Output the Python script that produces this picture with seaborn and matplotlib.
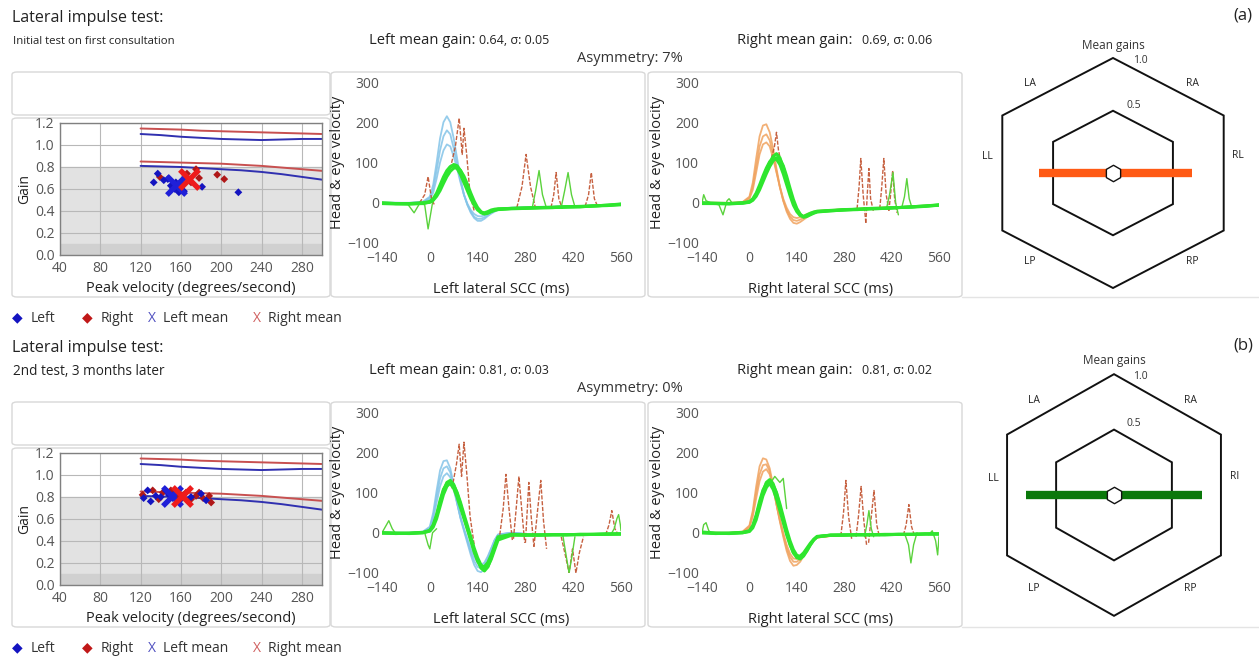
import numpy as np
import pandas as pd
import seaborn as sns
import matplotlib.pyplot as plt
from matplotlib.patches import FancyBboxPatch, Polygon

W, H = 1259, 668

# ---------------- DATA ----------------
# sample times (ms) shared by the head / eye traces
T = [-140, -100, -60, -20, 0, 10, 20, 30, 40, 50, 60, 70, 80, 90, 100, 110, 120,
     130, 140, 150, 160, 170, 180, 190, 200, 240, 280, 320, 360, 400, 440, 480, 520, 560]

# (a) left lateral SCC
A_L_HEAD = [
    [0, 0, 0, 3, 15, 45, 100, 160, 200, 215, 200, 160, 110, 60, 20, -5, -25, -38, -45, -45, -40, -33, -27, -22, -18, -13, -12, -11, -10, -9, -8, -7, -6, -5],
    [0, 0, -1, 2, 12, 35, 80, 130, 165, 180, 170, 135, 95, 55, 20, -5, -22, -35, -40, -40, -36, -30, -25, -20, -17, -13, -12, -11, -10, -9, -8, -7, -6, -5],
    [0, -1, -1, 1, 8, 25, 60, 100, 130, 145, 140, 115, 85, 50, 20, -2, -18, -28, -33, -34, -31, -27, -22, -18, -15, -12, -11, -10, -10, -9, -8, -7, -6, -4],
]
A_L_EYE = [
    [-2, -3, -3, -2, 2, 8, 20, 38, 58, 76, 88, 95, 92, 80, 62, 40, 18, 0, -15, -25, -28, -26, -22, -19, -17, -15, -14, -13, -12, -11, -10, -8, -7, -5],
    [0, -2, -2, 0, 3, 10, 24, 44, 64, 80, 90, 92, 85, 70, 50, 30, 10, -6, -18, -24, -25, -22, -18, -16, -15, -14, -13, -12, -11, -10, -9, -8, -6, -4],
    [-1, -2, -3, -1, 1, 6, 16, 30, 48, 65, 78, 86, 87, 80, 66, 46, 24, 4, -12, -22, -27, -25, -21, -18, -16, -14, -13, -12, -12, -10, -10, -8, -6, -3],
]
A_L_RED = [
    ([-30, -15, -5, 5, 15], [0, 20, 65, 10, -8]),
    ([60, 75, 86, 95, 100, 108, 118, 130], [85, 140, 210, 120, 185, 120, 20, -20]),
    ([255, 270, 282, 295, 310], [-12, 40, 120, 40, -15]),
    ([355, 363, 370, 378, 388], [-12, 20, 75, 10, -15]),
    ([455, 465, 473, 482, 492], [-9, 20, 75, 10, -10]),
]
A_L_GREEN = [
    ([-65, -46, -30, -15, -5, 8, 20], [-3, -25, -2, -5, -65, 0, 20]),
    ([300, 310, 320, 330, 342], [-13, 30, 80, 20, -14]),
    ([385, 395, 405, 415, 425], [-11, 30, 75, 20, -10]),
]

# (a) right lateral SCC
A_R_HEAD = [
    [0, 0, 0, 2, 15, 50, 110, 165, 192, 195, 175, 135, 85, 40, 5, -22, -40, -50, -52, -48, -42, -36, -30, -26, -23, -20, -18, -16, -14, -13, -12, -10, -8, -6],
    [0, 0, -1, 1, 12, 40, 90, 140, 165, 170, 155, 120, 78, 38, 5, -18, -34, -43, -45, -42, -37, -32, -28, -24, -21, -19, -17, -15, -14, -12, -11, -10, -8, -6],
    [0, -1, -1, 0, 10, 32, 75, 120, 145, 150, 140, 110, 75, 40, 10, -12, -28, -36, -38, -36, -32, -28, -25, -22, -20, -18, -16, -15, -13, -12, -11, -9, -7, -5],
]
A_R_EYE = [
    [-2, -2, -2, -1, 2, 8, 20, 38, 60, 82, 100, 115, 122, 112, 88, 58, 28, 2, -18, -30, -35, -32, -28, -25, -22, -20, -18, -16, -15, -14, -12, -10, -8, -6],
    [0, -1, -2, 0, 3, 10, 24, 44, 66, 86, 102, 110, 108, 95, 72, 45, 18, -6, -22, -32, -34, -30, -26, -23, -21, -19, -17, -16, -14, -13, -12, -10, -8, -5],
    [-1, -2, -3, -1, 1, 6, 16, 32, 52, 72, 90, 104, 112, 108, 92, 66, 36, 8, -14, -28, -36, -34, -30, -26, -23, -20, -18, -17, -15, -14, -12, -11, -9, -6],
]
A_R_RED = [
    ([65, 74, 80, 86, 95], [110, 140, 175, 130, 95]),
    ([318, 324, 329, 336, 344], [-15, 40, 110, 20, -50]),
    ([344, 348, 353, 358, 366], [-50, 20, 85, 10, -20]),
    ([385, 391, 397, 404, 412], [-15, 40, 110, 20, -20]),
    ([412, 417, 423, 429, 436], [-20, 20, 80, 10, -25]),
]
A_R_GREEN = [
    ([-140, -135, -128, -110, -90, -78, -66, -60, -50], [0, 20, 5, -2, -5, -30, 5, 10, -2]),
    ([405, 414, 424, 432, 440], [-14, 20, 75, 0, -30]),
    ([450, 458, 465, 472, 480], [-12, 15, 60, 10, -12]),
]

# (b) left lateral SCC
B_L_HEAD = [
    [0, 0, 0, 3, 15, 50, 105, 155, 178, 180, 160, 120, 75, 35, 5, -25, -55, -80, -95, -98, -90, -70, -45, -20, -5, 0, -3, -5, -5, -4, -4, -3, -3, -2],
    [0, 0, -1, 2, 12, 42, 90, 135, 160, 165, 150, 115, 75, 38, 8, -20, -48, -70, -85, -88, -80, -62, -40, -18, -4, 0, -3, -5, -5, -4, -4, -3, -3, -2],
    [0, -1, -1, 1, 10, 35, 75, 115, 140, 148, 138, 108, 72, 38, 10, -15, -40, -60, -75, -80, -74, -58, -38, -18, -5, 0, -3, -4, -5, -4, -3, -3, -2, -2],
]
B_L_EYE = [
    [0, -1, -1, 0, 5, 18, 42, 75, 105, 125, 130, 120, 98, 70, 40, 12, -15, -45, -70, -88, -95, -85, -62, -35, -12, -5, -6, -6, -5, -5, -5, -4, -4, -3],
    [0, -2, -1, 1, 6, 20, 46, 80, 108, 122, 122, 110, 88, 62, 35, 8, -20, -48, -70, -82, -84, -74, -55, -32, -10, -4, -5, -6, -5, -5, -4, -4, -3, -3],
    [-1, -1, -2, 0, 4, 14, 35, 65, 95, 115, 124, 118, 100, 75, 46, 18, -10, -38, -62, -80, -90, -84, -66, -42, -18, -6, -6, -5, -5, -5, -4, -4, -3, -3],
]
B_L_RED = [
    ([65, 78, 86, 93, 100, 108, 118, 130], [110, 170, 220, 140, 225, 150, 40, -30]),
    ([205, 215, 223, 232, 242], [-5, 60, 145, 60, -20]),
    ([245, 253, 261, 270, 278], [-15, 60, 140, 50, -25]),
    ([280, 285, 290, 297, 305], [-25, 50, 125, 40, -35]),
    ([305, 315, 325, 333, 342], [-35, 50, 130, 30, -40]),
    ([385, 398, 408, 418, 428, 438, 450], [-10, -60, -100, -40, -100, -50, -10]),
    ([515, 525, 533, 542, 552], [-5, 20, 55, 10, -5]),
]
B_L_GREEN = [
    ([-140, -130, -120, -110, -100], [0, 15, 30, 10, -2]),
    ([-15, -5, 0, 8, 20], [0, -30, -40, 0, 10]),
    ([390, 400, 408, 416, 425], [-8, -60, -100, -60, -10]),
    ([530, 540, 548, 553, 558, 560], [-5, 10, 35, 45, 20, 5]),
]

# (b) right lateral SCC
B_R_HEAD = [
    [0, 0, 0, 3, 18, 55, 115, 165, 185, 182, 160, 118, 70, 28, -10, -45, -70, -82, -80, -72, -58, -42, -28, -18, -12, -8, -6, -5, -5, -4, -4, -3, -3, -2],
    [0, 0, -1, 2, 15, 48, 100, 145, 168, 170, 152, 115, 70, 30, -5, -38, -60, -72, -72, -66, -54, -40, -28, -18, -12, -8, -6, -5, -5, -4, -4, -3, -3, -2],
    [0, -1, -1, 1, 12, 40, 85, 128, 152, 158, 145, 112, 72, 34, 0, -30, -52, -64, -65, -60, -50, -38, -27, -18, -12, -8, -6, -5, -5, -4, -4, -3, -3, -2],
]
B_R_EYE = [
    [2, -1, -1, 0, 4, 16, 40, 72, 102, 125, 132, 122, 98, 66, 32, 0, -28, -50, -62, -65, -58, -45, -30, -18, -10, -6, -6, -5, -5, -5, -4, -4, -3, -3],
    [0, -2, -1, 1, 5, 18, 44, 78, 106, 122, 122, 108, 84, 55, 25, -5, -30, -50, -58, -58, -50, -38, -26, -16, -9, -6, -5, -5, -5, -4, -4, -4, -3, -3],
    [0, -1, -2, 0, 3, 12, 32, 62, 92, 112, 124, 118, 100, 72, 40, 8, -20, -42, -56, -60, -55, -44, -30, -18, -10, -6, -6, -5, -5, -5, -4, -4, -3, -3],
]
B_R_RED = [
    ([270, 278, 285, 293, 302], [-8, 50, 130, 40, -15]),
    ([315, 322, 330, 338, 346], [-10, 40, 115, 30, -30]),
    ([352, 360, 368, 376, 384], [-25, 40, 105, 20, -10]),
    ([455, 463, 471, 479, 487], [-6, 20, 70, 15, -6]),
]
B_R_GREEN = [
    ([-140, -135, -128, -120, -110], [0, 20, 25, 5, -2]),
    ([60, 75, 90, 100, 110], [120, 140, 125, 135, 60]),
    ([340, 347, 353, 360, 367], [-10, 20, 55, 10, -10]),
    ([460, 470, 477, 485, 495], [-6, -30, -75, -30, 0]),
    ([530, 540, 550, 556, 560], [-5, 5, -20, -55, -10]),
]

# gain vs peak head velocity
A_LEFT_VEL = [133, 137, 143, 147, 150, 152, 154, 156, 158, 160, 163, 181, 217, 155]
A_LEFT_GAIN = [0.66, 0.74, 0.68, 0.69, 0.63, 0.61, 0.60, 0.62, 0.57, 0.65, 0.58, 0.62, 0.57, 0.66]
A_RIGHT_VEL = [139, 166, 170, 175, 178, 196, 203]
A_RIGHT_GAIN = [0.71, 0.74, 0.66, 0.78, 0.70, 0.73, 0.69]
A_MEAN = {"left": (155, 0.64), "right": (168, 0.69)}

B_LEFT_VEL = [123, 127, 130, 135, 140, 145, 148, 152, 155, 160, 170, 180, 185]
B_LEFT_GAIN = [0.79, 0.86, 0.76, 0.81, 0.80, 0.86, 0.82, 0.79, 0.84, 0.78, 0.80, 0.83, 0.77]
B_RIGHT_VEL = [122, 132, 138, 142, 150, 158, 165, 170, 175, 178, 182, 188, 190]
B_RIGHT_GAIN = [0.82, 0.86, 0.78, 0.84, 0.86, 0.80, 0.84, 0.78, 0.81, 0.84, 0.79, 0.81, 0.75]
B_MEAN = {"left": (151, 0.81), "right": (161, 0.81)}

# normative limits
NORM_VEL = [120, 140, 160, 180, 200, 220, 240, 260, 280, 300]
NORM_RED_UP = [1.15, 1.145, 1.14, 1.13, 1.125, 1.12, 1.115, 1.11, 1.105, 1.10]
NORM_BLUE_UP = [1.10, 1.09, 1.075, 1.065, 1.055, 1.05, 1.045, 1.05, 1.055, 1.055]
NORM_RED_LO = [0.85, 0.845, 0.84, 0.835, 0.83, 0.82, 0.81, 0.795, 0.78, 0.765]
NORM_BLUE_LO = [0.81, 0.805, 0.80, 0.79, 0.78, 0.77, 0.755, 0.735, 0.71, 0.685]

# mean gains (hexagon)
RINGS = [0.5, 1.0]
A_GAINS = {"left": 0.64, "right": 0.69}
B_GAINS = {"left": 0.81, "right": 0.81}
R_OFFSET = 0.09   # radial offset of the hexagon scale (the centre is not gain 0)

# ---------------- STYLE ----------------
sns.set_theme(style="white")
plt.rcParams['font.family'] = ['Open Sans', 'DejaVu Sans']

fig = plt.figure(figsize=(W / 100, H / 100), dpi=100)


def px_axes(x0, y0, x1, y1):
    return fig.add_axes([x0 / W, 1 - y1 / H, (x1 - x0) / W, (y1 - y0) / H])


def box(x0, y0, x1, y1):
    p = FancyBboxPatch((x0 / W, 1 - y1 / H), (x1 - x0) / W, (y1 - y0) / H,
                       boxstyle="round,pad=0,rounding_size=0.004",
                       transform=fig.transFigure, fc='none', ec='#d8d8d8', lw=1, zorder=-5)
    fig.patches.append(p)


def tx(x, y, s, **kw):
    kw.setdefault('va', 'center')
    fig.text(x / W, 1 - y / H, s, **kw)


def gain_panel(ax, lv, lg, rv, rg, means):
    ax.axhspan(0, 0.8, color='#e2e2e2', zorder=0)
    ax.axhspan(0, 0.1, color='#d0d0d0', zorder=0)
    ax.set_xlim(40, 300)
    ax.set_ylim(0, 1.2)
    ax.set_xticks([40, 80, 120, 160, 200, 240, 280])
    ax.set_yticks([0.0, 0.2, 0.4, 0.6, 0.8, 1.0, 1.2])
    ax.set_yticklabels(['0.0', '0.2', '0.4', '0.6', '0.8', '1.0', '1.2'])
    ax.grid(True, color='#b8b8b8', lw=0.8)
    ax.set_axisbelow(True)
    for yv, c in [(NORM_RED_UP, '#c85050'), (NORM_BLUE_UP, '#3030b0'),
                  (NORM_RED_LO, '#c85050'), (NORM_BLUE_LO, '#3030b0')]:
        sns.lineplot(x=NORM_VEL, y=yv, color=c, lw=1.4, ax=ax)
    sns.scatterplot(x=rv, y=rg, marker='D', s=16, color='#b01818', edgecolor='none', ax=ax, zorder=3)
    sns.scatterplot(x=lv, y=lg, marker='D', s=16, color='#1414c0', edgecolor='none', ax=ax, zorder=3)
    sns.scatterplot(x=[means['left'][0]], y=[means['left'][1]], marker='x', s=190,
                    linewidth=3.8, color='#2020d8', ax=ax, zorder=4)
    sns.scatterplot(x=[means['right'][0]], y=[means['right'][1]], marker='x', s=190,
                    linewidth=3.8, color='#ee1c1c', ax=ax, zorder=4)
    for s in ax.spines.values():
        s.set_color('#808080')
        s.set_linewidth(1)
    ax.tick_params(length=0, labelsize=10, labelcolor='#555555', pad=4)
    ax.set_xlabel('Peak velocity (degrees/second)', fontsize=10.5, color='#222222', labelpad=4)
    ax.set_ylabel('Gain', fontsize=10, color='#222222', labelpad=2)


def wave_panel(ax, heads, eyes, reds, greens, head_color, xlabel):
    rows = []
    for i, tr in enumerate(heads):
        rows += [dict(kind='head', trace=i, t=t, v=v) for t, v in zip(T, tr)]
    for i, tr in enumerate(eyes):
        rows += [dict(kind='eye', trace=i, t=t, v=v) for t, v in zip(T, tr)]
    for i, (ts, vs) in enumerate(reds):
        rows += [dict(kind='red', trace=i, t=t, v=v) for t, v in zip(ts, vs)]
    for i, (ts, vs) in enumerate(greens):
        rows += [dict(kind='green', trace=i, t=t, v=v) for t, v in zip(ts, vs)]
    df = pd.DataFrame(rows)
    common = dict(x='t', y='v', units='trace', estimator=None, sort=False, ax=ax, legend=False)
    sns.lineplot(data=df[df.kind == 'head'], color=head_color, lw=1.3, alpha=0.85, **common)
    sns.lineplot(data=df[df.kind == 'red'], color='#c0502c', lw=1.0, alpha=0.9,
                 dashes=False, linestyle=(0, (3, 1.2)), **common)
    sns.lineplot(data=df[df.kind == 'green'], color='#5ad23c', lw=1.0, **common)
    sns.lineplot(data=df[df.kind == 'eye'], color='#2ee62e', lw=2.2, **common)
    ax.set_xlim(-140, 560)
    ax.set_ylim(-100, 300)
    ax.set_xticks([-140, 0, 140, 280, 420, 560])
    ax.set_yticks([-100, 0, 100, 200, 300])
    for s in ax.spines.values():
        s.set_visible(False)
    ax.set_facecolor('none')
    ax.tick_params(axis='y', length=0, labelsize=10, labelcolor='#555555', pad=2)
    ax.tick_params(axis='x', length=0, labelsize=10, labelcolor='#555555', pad=6)
    ax.set_xlabel(xlabel, fontsize=10.5, color='#222222', labelpad=11)
    ax.set_ylabel('Head & eye velocity', fontsize=10.5, color='#222222', labelpad=2)


def radial(g):
    return (g + R_OFFSET) / (1 + R_OFFSET)


def hex_panel(ax, gains, color, labels):
    ang = np.deg2rad([90, 30, -30, -90, -150, 150])
    for r in RINGS:
        rr = radial(r)
        ax.add_patch(Polygon(np.c_[rr * np.cos(ang), rr * np.sin(ang)], closed=True,
                             fill=False, ec='#111111', lw=1.4))
    c30 = np.cos(np.deg2rad(30))
    ax.plot([-radial(gains['left']) * c30, 0], [0, 0], color=color, lw=6, solid_capstyle='butt')
    ax.plot([0, radial(gains['right']) * c30], [0, 0], color=color, lw=6, solid_capstyle='butt')
    ax.scatter([0], [0], s=140, marker='h', facecolor='white', edgecolor='#111111', lw=1, zorder=5)
    ax.set_xlim(-1.15, 1.15)
    ax.set_ylim(-1.2, 1.2)
    ax.axis('off')
    ax.text(0, 1.11, 'Mean gains', ha='center', va='center', fontsize=8.5, color='#333333')
    ax.text(0.21, 0.98, '1.0', ha='center', va='center', fontsize=7.5, color='#333333')
    ax.text(0.16, radial(0.5) + 0.05, '0.5', ha='center', va='center', fontsize=7.5, color='#333333')
    pos = [(-0.65, 0.78), (0.62, 0.78), (-0.98, 0.14), (0.98, 0.15), (-0.65, -0.77), (0.62, -0.77)]
    for (x, y), lab in zip(pos, labels):
        ax.text(x, y, lab, ha='center', va='center', fontsize=7.5, color='#222222')


def section(oy, sub, sub_fs, lmean, rmean, asym, data, hexc, hex_box, hexg, hexlab, tag):
    tx(12, 18 + oy, 'Lateral impulse test:', fontsize=11.5, color='#222222')
    tx(13, 42 + oy, sub, fontsize=sub_fs, color='#222222')
    tx(369, 40 + oy, 'Left mean gain:', fontsize=10.6, color='#222222')
    tx(479, 41 + oy, lmean, fontsize=9, color='#222222')
    tx(737, 40 + oy, 'Right mean gain:', fontsize=10.6, color='#222222')
    tx(862, 41 + oy, rmean, fontsize=9, color='#222222')
    tx(630, 59 + oy, asym, fontsize=10.5, color='#333333', ha='center')
    tx(1243, 16 + oy, tag, fontsize=12, color='#222222', ha='center')

    box(12, 72 + oy, 330, 115 + oy)
    box(12, 118 + oy, 330, 297 + oy)
    box(331, 72 + oy, 645, 297 + oy)
    box(648, 72 + oy, 962, 297 + oy)
    fig.add_artist(plt.Line2D([962 / W, 1], [1 - (297 + oy) / H] * 2,
                              transform=fig.transFigure, color='#e4e4e4', lw=1, zorder=-5))

    (lv, lg, rv, rg, means, lh, le, lr, lgr, rh, re, rr, rgr) = data
    ax = px_axes(60, 123 + oy, 322, 255 + oy)
    gain_panel(ax, lv, lg, rv, rg, means)
    ax = px_axes(382, 82 + oy, 621, 243 + oy)
    wave_panel(ax, lh, le, lr, lgr, '#84c4e8', 'Left lateral SCC (ms)')
    ax = px_axes(702, 82 + oy, 939, 243 + oy)
    wave_panel(ax, rh, re, rr, rgr, '#f0a25e', 'Right lateral SCC (ms)')

    ax = px_axes(*hex_box)
    hex_panel(ax, hexg, hexc, hexlab)

    ly = 318 + oy
    tx(12, ly, '◆', fontsize=10, color='#1414c0')
    tx(31, ly, 'Left', fontsize=10, color='#333333')
    tx(82, ly, '◆', fontsize=10, color='#c01818')
    tx(101, ly, 'Right', fontsize=10, color='#333333')
    tx(148, ly, 'X', fontsize=10, color='#5050c0')
    tx(163, ly, 'Left mean', fontsize=10, color='#333333')
    tx(253, ly, 'X', fontsize=10, color='#d06060')
    tx(268, ly, 'Right mean', fontsize=10, color='#333333')


section(0, 'Initial test on first consultation', 8.2,
        '0.64, σ: 0.05', '0.69, σ: 0.06', 'Asymmetry: 7%',
        (A_LEFT_VEL, A_LEFT_GAIN, A_RIGHT_VEL, A_RIGHT_GAIN, A_MEAN,
         A_L_HEAD, A_L_EYE, A_L_RED, A_L_GREEN, A_R_HEAD, A_R_EYE, A_R_RED, A_R_GREEN),
        '#ff5a14', (966, 35, 1260, 311), A_GAINS,
        ['LA', 'RA', 'LL', 'RL', 'LP', 'RP'], '(a)')

section(330, '2nd test, 3 months later', 9.8,
        '0.81, σ: 0.03', '0.81, σ: 0.02', 'Asymmetry: 0%',
        (B_LEFT_VEL, B_LEFT_GAIN, B_RIGHT_VEL, B_RIGHT_GAIN, B_MEAN,
         B_L_HEAD, B_L_EYE, B_L_RED, B_L_GREEN, B_R_HEAD, B_R_EYE, B_R_RED, B_R_GREEN),
        '#0a780a', (972, 350, 1256, 640), B_GAINS,
        ['LA', 'RA', 'LL', 'RI', 'LP', 'RP'], '(b)')

fig.savefig('out.png', dpi=100, facecolor='white')
